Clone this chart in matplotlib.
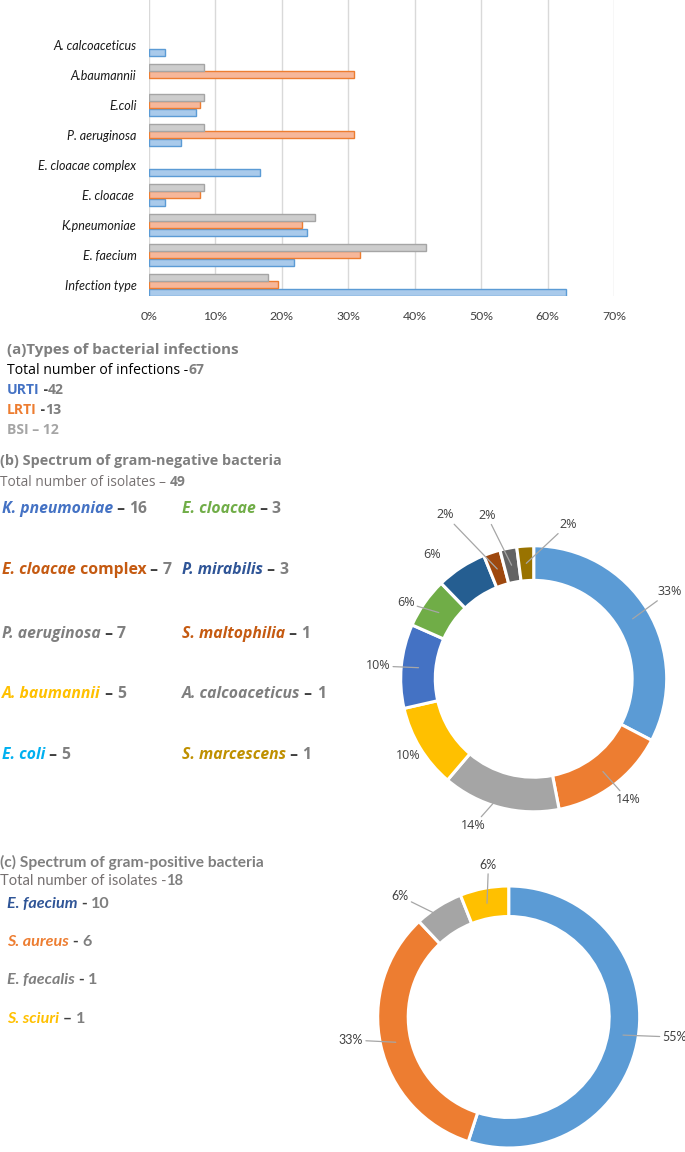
import matplotlib
matplotlib.use('Agg')
import matplotlib.pyplot as plt
import numpy as np
from matplotlib.ticker import PercentFormatter

W, H = 685, 1152

# ---------------- data ----------------
bar_categories = ['Infection type', 'E. faecium', 'K.pneumoniae', 'E. cloacae ',
                  'E. cloacae complex', 'P. aeruginosa', 'E.coli', 'A.baumannii',
                  'A. calcoaceticus']
urti_pct = [62.8, 21.8, 23.8, 2.4, 16.7, 4.8, 7.1, 0, 2.4]
lrti_pct = [19.4, 31.7, 23.1, 7.7, 0, 30.8, 7.7, 30.8, 0]
bsi_pct = [17.9, 41.7, 25.0, 8.3, 0, 8.3, 8.3, 8.3, 0]
x_ticks_pct = [0, 10, 20, 30, 40, 50, 60, 70]

infection_total = 67
infection_types = ['URTI', 'LRTI', 'BSI']
infection_counts = [42, 13, 12]
infection_seps = [' -', ' -', ' – ']

gneg_total = 49
gneg_species = ['K. pneumoniae', 'E. cloacae complex', 'P. aeruginosa', 'A. baumannii',
                'E. coli', 'E. cloacae', 'P. mirabilis', 'S. maltophilia',
                'A. calcoaceticus', 'S. marcescens']
gneg_counts = [16, 7, 7, 5, 5, 3, 3, 1, 1, 1]

gpos_total = 18
gpos_species = ['E. faecium', 'S. aureus', 'E. faecalis', 'S. sciuri']
gpos_counts = [10, 6, 1, 1]
gpos_seps = [' - ', ' - ', ' - ', ' – ']
gpos_pct = [55, 33, 6, 6]

# ---------------- styles ----------------
C_BLUE_L, C_ORANGE, C_GRAY, C_YELLOW = '#5B9BD5', '#ED7D31', '#A5A5A5', '#FFC000'
gneg_ring_colors = ['#5B9BD5', '#ED7D31', '#A5A5A5', '#FFC000', '#4472C4',
                    '#70AD47', '#255E91', '#9E480E', '#636363', '#997300']
gneg_text_colors = ['#4472C4', '#C55A11', '#7F7F7F', '#FFC000', '#00B0F0',
                    '#70AD47', '#2F5597', '#C55A11', '#7F7F7F', '#BF9000']
gpos_ring_colors = ['#5B9BD5', '#ED7D31', '#A5A5A5', '#FFC000']
gpos_text_colors = ['#2F5597', '#ED7D31', '#7F7F7F', '#FFC000']
infection_colors = ['#4472C4', '#ED7D31', '#A5A5A5']
HEAD = '#7F7F7F'
NUM = '#7F7F7F'
DASH = '#404040'
F1 = ['Open Sans', 'DejaVu Sans']
F2 = ['Lato', 'DejaVu Sans']

fig = plt.figure(figsize=(W / 100, H / 100), dpi=100)

# text layer in pixel coordinates
tax = fig.add_axes([0, 0, 1, 1])
tax.set_xlim(0, W)
tax.set_ylim(H, 0)
tax.axis('off')


def write_runs(x, y, runs, size, family):
    """Write text pieces one after another on a common baseline (y = visual centre)."""
    base = y + 0.36 * size * 100 / 72.0
    prev = None
    for s, color, weight, style in runs:
        kw = dict(fontsize=size, color=color, fontweight=weight, fontstyle=style,
                  family=family)
        if prev is None:
            prev = tax.text(x, base, s, ha='left', va='baseline', **kw)
        else:
            prev = tax.annotate(s, xy=(1, base), xycoords=(prev, 'data'),
                                ha='left', va='baseline', **kw)
    return prev


# ---------------- bar chart ----------------
bx = fig.add_axes([149 / W, 1 - 296 / H, 465 / W, 296 / H])
y = np.arange(len(bar_categories))
series = [(urti_pct, -0.25, '#A9CAEB', C_BLUE_L),
          (lrti_pct, 0.0, '#F6B79A', C_ORANGE),
          (bsi_pct, 0.25, '#CDCDCD', C_GRAY)]
for vals, off, fc, ec in series:
    v = np.array(vals) / 100.0
    m = v > 0
    bx.barh(y[m] + off, v[m], height=0.23, color=fc, edgecolor=ec, linewidth=1.0, zorder=3)
bx.set_xlim(0, 0.7)
bx.set_ylim(-0.375, 9.5)
bx.set_xticks(np.array(x_ticks_pct) / 100.0)
bx.xaxis.set_major_formatter(PercentFormatter(1.0, decimals=0))
bx.set_yticks(y)
bx.set_yticklabels(bar_categories, fontstyle='italic', family=F2, fontsize=9, color='#1A1A1A')
for lab in bx.get_xticklabels():
    lab.set_family(F2)
    lab.set_fontsize(8.8)
    lab.set_color('#404040')
bx.grid(axis='x', color='#D9D9D9', linewidth=1.0, zorder=0)
bx.set_axisbelow(True)
for sp in bx.spines.values():
    sp.set_visible(False)
bx.tick_params(axis='both', length=0)
bx.tick_params(axis='x', pad=11)
bx.tick_params(axis='y', pad=9)
bx.patch.set_alpha(0)

# ---------------- section (a) ----------------
write_runs(7, 349, [('(a)Types of bacterial infections', HEAD, 'bold', 'normal')], 10.9, F1)
write_runs(7, 369, [('Total number of infections -', '#000000', 'normal', 'normal'),
                    (str(infection_total), NUM, 'bold', 'normal')], 10.1, F1)
for i, (name, cnt, sep, col) in enumerate(zip(infection_types, infection_counts,
                                               infection_seps, infection_colors)):
    yy = 389 + i * 20
    if name == 'BSI':
        write_runs(7, yy, [(name + sep + str(cnt), col, 'bold', 'normal')], 10.1, F1)
    else:
        write_runs(7, yy, [(name, col, 'bold', 'normal'),
                           (sep, DASH, 'bold', 'normal'),
                           (str(cnt), NUM, 'bold', 'normal')], 10.1, F1)

# ---------------- section (b) ----------------
write_runs(0, 460, [('(b) Spectrum of gram-negative bacteria', HEAD, 'bold', 'normal')], 10.4, F1)
write_runs(0, 481, [('Total number of isolates – ', '#767171', 'normal', 'normal'),
                    (str(gneg_total), NUM, 'bold', 'normal')], 9.9, F1)
row_y = [507, 568, 632, 692, 753]
col_x = [2, 182]
for i, (name, cnt, col) in enumerate(zip(gneg_species, gneg_counts, gneg_text_colors)):
    x0 = col_x[i // 5]
    y0 = row_y[i % 5]
    runs = []
    if name.endswith(' complex'):
        runs.append((name[:-len(' complex')], col, 'bold', 'italic'))
        runs.append((' complex', col, 'bold', 'normal'))
    else:
        runs.append((name, col, 'bold', 'italic'))
    runs.append((' – ', DASH, 'bold', 'normal'))
    runs.append((str(cnt), NUM, 'bold', 'normal'))
    write_runs(x0, y0, runs, 11.3, F1)

# ---------------- section (c) ----------------
write_runs(0, 861, [('(c) Spectrum of gram-positive bacteria', HEAD, 'bold', 'normal')], 11.2, F2)
write_runs(0, 880, [('Total number of isolates -', '#767171', 'normal', 'normal'),
                    (str(gpos_total), NUM, 'bold', 'normal')], 10.6, F2)
gpos_row_y = [902, 940, 978, 1017]
for name, cnt, sep, col, yy in zip(gpos_species, gpos_counts, gpos_seps, gpos_text_colors, gpos_row_y):
    write_runs(7, yy, [(name, col, 'bold', 'italic'),
                       (sep, DASH, 'bold', 'normal'),
                       (str(cnt), NUM, 'bold', 'normal')], 11.6, F2)


# ---------------- donuts ----------------
def donut(center, R, half, values, colors, wfrac, labels, lab_r, lab_da, leaders, fam, fs):
    cx, cy = center
    ax = fig.add_axes([(cx - half) / W, (H - cy - half) / H, 2 * half / W, 2 * half / H])
    ax.pie(values, colors=colors, startangle=90, counterclock=False, radius=1,
           wedgeprops=dict(width=wfrac, edgecolor='white', linewidth=2.2))
    s = half / R
    ax.set_xlim(-s, s)
    ax.set_ylim(-s, s)
    ax.set_aspect('equal')
    ax.axis('off')
    vals = np.array(values, dtype=float)
    cum = np.cumsum(vals)
    mids = (cum - vals / 2) / cum[-1] * 360.0
    rm = 1 - wfrac / 2
    for lab, mid, r, da, ld in zip(labels, mids, lab_r, lab_da, leaders):
        a = np.deg2rad(mid + da)
        am = np.deg2rad(mid)
        tx, ty = r * np.sin(a), r * np.cos(a)
        px, py = rm * np.sin(am), rm * np.cos(am)
        if ld:
            ax.annotate(lab, xy=(px, py), xytext=(tx, ty), ha='center', va='center',
                        fontsize=fs, family=fam, color='#404040',
                        arrowprops=dict(arrowstyle='-', color='#A6A6A6', lw=0.9,
                                        shrinkA=0, shrinkB=0))
        else:
            ax.text(tx, ty, lab, ha='center', va='center', fontsize=fs, family=fam,
                    color='#404040')
    return ax


gneg_labels = ['%d%%' % round(c / gneg_total * 100) for c in gneg_counts]
donut((533.7, 678.8), 133, 200, gneg_counts, gneg_ring_colors, 0.26, gneg_labels,
      [1.217, 1.155, 1.197, 1.108, 1.175, 1.12, 1.21, 1.40, 1.28, 1.19],
      [-1.4, -1.2, 7.7, -0.3, -0.8, -4.2, -6.3, -10, -5, 16.2],
      [True, True, True, False, True, True, False, True, True, True], F1, 9)

gpos_labels = ['%d%%' % p for p in gpos_pct]
donut((508.7, 1017), 131, 180, gpos_pct, gpos_ring_colors, 0.233, gpos_labels,
      [1.276, 1.217, 1.24, 1.17],
      [-2.1, 4.3, -9.6, 3.2],
      [True, True, True, True], F2, 9)

fig.savefig('out.png', dpi=100)
